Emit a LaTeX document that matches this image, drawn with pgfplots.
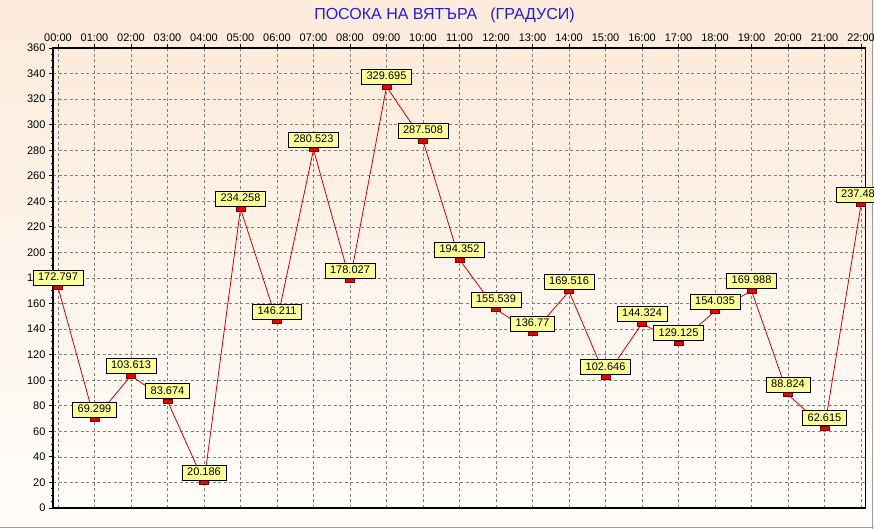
\documentclass[border=0pt]{standalone}
\usepackage{fontspec}
\setmainfont{Liberation Sans}
\usepackage{pgfplots}
\usepackage{pgfplotstable}
\pgfplotsset{compat=1.18}
\definecolor{peach}{RGB}{253,235,219}
\definecolor{paleend}{RGB}{255,253,251}
\definecolor{lbl}{RGB}{255,255,153}
\definecolor{linered}{RGB}{215,0,0}
\definecolor{mkred}{RGB}{230,0,0}
\definecolor{mkdark}{RGB}{120,0,0}
\definecolor{titleblue}{RGB}{30,30,220}
\definecolor{gridgray}{RGB}{128,128,128}

\pgfplotstableread{
x y lab
0 172.797 172.797
1 69.299 69.299
2 103.613 103.613
3 83.674 83.674
4 20.186 20.186
5 234.258 234.258
6 146.211 146.211
7 280.523 280.523
8 178.027 178.027
9 329.695 329.695
10 287.508 287.508
11 194.352 194.352
12 155.539 155.539
13 136.77 136.77
14 169.516 169.516
15 102.646 102.646
16 144.324 144.324
17 129.125 129.125
18 154.035 154.035
19 169.988 169.988
20 88.824 88.824
21 62.615 62.615
22 237.488 237.488
}\winddata

\begin{document}
\begin{tikzpicture}[x=1pt,y=1pt]
\shade[top color=peach, bottom color=paleend] (0,0) rectangle (874,529);
\draw[gray!75, line width=1.5pt] (872.5,0)--(872.5,529);
\draw[gray!75, line width=1.5pt] (0,1.5)--(874,1.5);
\node[titleblue, font=\fontsize{16}{18}\selectfont, anchor=center] at (444.5,514) {ПОСОКА НА ВЯТЪРА\hspace{13pt}(ГРАДУСИ)};
\begin{axis}[
  at={(53pt,21pt)}, anchor=south west,
  scale only axis, width=812.5pt, height=460pt,
  xmin=-0.137, xmax=22.123, ymin=0, ymax=360,
  clip=false,
  axis background/.style={shade, top color=peach, bottom color=paleend},
  axis line style={black, line width=1.2pt},
  xtick={0,...,22},
  xticklabels={00:00,01:00,02:00,03:00,04:00,05:00,06:00,07:00,08:00,09:00,10:00,11:00,12:00,13:00,14:00,15:00,16:00,17:00,18:00,19:00,20:00,21:00,22:00},
  xtick pos=upper, xticklabel pos=upper,
  ytick={0,20,...,360}, ytick pos=left,
  minor y tick num=3,
  tick align=outside,
  major tick length=4pt, minor tick length=2pt,
  every tick/.style={black, line width=0.8pt},
  grid=major,
  major grid style={gridgray, line width=0.7pt, dash pattern=on 3pt off 2.5pt},
  ticklabel style={font=\fontsize{11}{13}\selectfont, black},
  /pgf/number format/assume math mode=true,
  yticklabel style={xshift=0pt},
  xticklabel style={yshift=-1.5pt},
]
\addplot[linered, line width=0.8pt, mark=square*,
  mark options={xscale=2, fill=mkred, draw=mkdark, line width=0.5pt},
  mark size=2.2pt,
  point meta=explicit symbolic,
  nodes near coords,
  every node near coord/.append style={anchor=south, yshift=2pt, fill=lbl, draw=black, line width=0.6pt,
    inner xsep=5pt, inner ysep=2pt, text height=8.5pt, text depth=2.5pt, text=black,
    font=\fontsize{11}{13}\selectfont}
] table[x=x, y=y, meta=lab] {\winddata};
\draw[black, line width=2.6pt] (rel axis cs:0,0) -- (rel axis cs:0,1);
\draw[black, line width=2pt] (rel axis cs:0,0) -- (rel axis cs:1,0);
\draw[black, line width=2pt] (rel axis cs:0,1) -- (rel axis cs:1,1);
\end{axis}
\pgfresetboundingbox
\useasboundingbox (0,0) rectangle (874,529);
\end{tikzpicture}
\end{document}
